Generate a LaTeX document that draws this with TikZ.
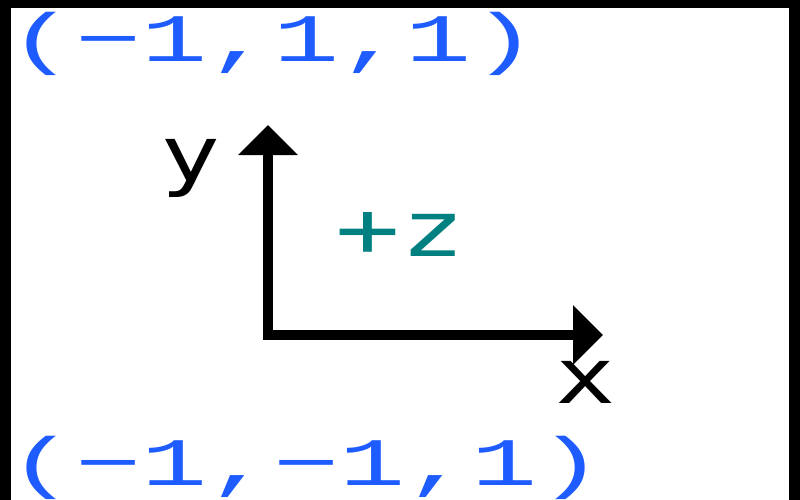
\documentclass[tikz,border=0pt]{standalone}
\usepackage{fontspec}
\setmainfont{DejaVu Sans}
\setmonofont{DejaVu Sans Mono}
\newfontfamily\coordfont{Liberation Mono}
\usetikzlibrary{arrows.meta}
\definecolor{cblue}{RGB}{30,92,255}
\definecolor{cteal}{RGB}{0,128,128}
\newcommand\pixtxt[3]{\scalebox{#1}[1]{\fontsize{#2}{#2}\ttfamily #3}}
\newcommand\cootxt[1]{\scalebox{1.62}[1]{\fontsize{68}{68}\coordfont #1}}
\tikzset{
  lbl/.style={inner sep=0pt, outer sep=0pt},
  coordlbl/.style={lbl, text=cblue, anchor=base west},
  axis/.style={line width=10pt, black, {Triangle[length=30pt,width=58pt]}-{Triangle[length=30pt,width=58pt]}},
}
\begin{document}
\begin{tikzpicture}[x=1pt,y=-1pt]
\useasboundingbox (0,0) rectangle (800,500);
\fill[white] (0,0) rectangle (800,500);
\fill[black] (0,0) rectangle (11,500);
\fill[black] (789,0) rectangle (800,500);
\fill[black] (0,0) rectangle (800,8);
% coordinate labels
\node[coordlbl] (ptop) at (9,62) {\cootxt{(−1,1,1)}};
\node[coordlbl] (pbot) at (9,485) {\cootxt{(−1,−1,1)}};
% axes
\coordinate (O) at (268,335);
\coordinate (ytip) at (268,125);
\coordinate (xtip) at (603,335);
\draw[axis] (ytip) -- (O) -- (xtip);
% axis labels
\node[lbl] (ylab) at (191,168) {\pixtxt{1.3}{77}{y}};
\node[lbl] (xlab) at (586,382) {\pixtxt{1.3}{77}{x}};
\node[lbl, text=cteal, anchor=base] (zlab) at (400,256) {\pixtxt{1.4}{77}{+z}};
\end{tikzpicture}
\end{document}
